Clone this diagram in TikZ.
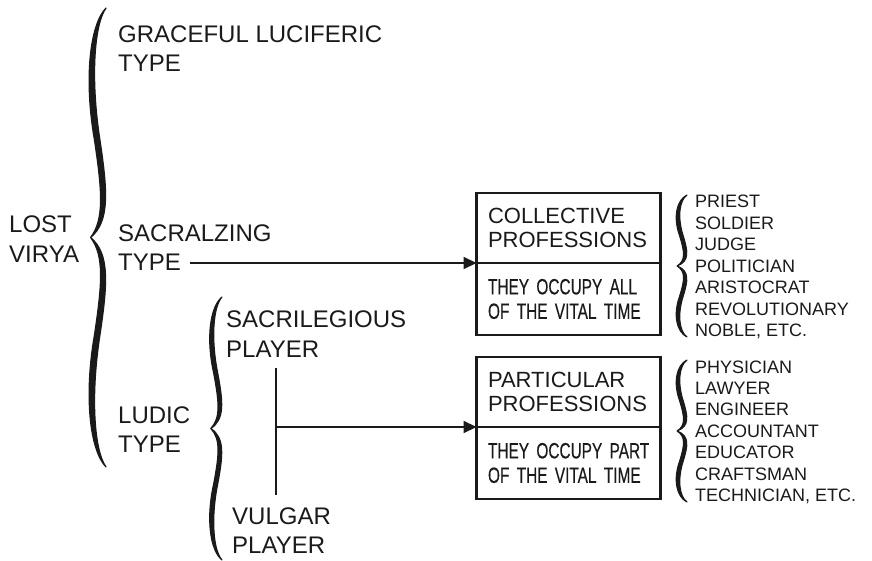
\documentclass[tikz,border=0pt]{standalone}
\usepackage{fontspec}
\setmainfont{Liberation Sans}
\newfontfamily\pCondFont[FakeStretch=0.7,FakeBold=0.4]{Liberation Sans}
\usetikzlibrary{positioning,arrows.meta}
\definecolor{pInk}{HTML}{1A1A1A}
% filled curly brace: end x, top y, bottom y, depth factor
\newcommand{\pBrace}[4]{%
  \filldraw[line width=1.2pt, line join=round, shift={(#1,{(#2+#3)/2})}, yscale={(#3-#2)/2}, xscale=#4]
    (0,-1) .. controls (-11,-0.926) and (-14,-0.686) .. (-5.5,-0.425)
    .. controls (1.5,-0.2) and (3.5,-0.07) .. (-14,0)
    .. controls (3.5,0.07) and (1.5,0.2) .. (-5.5,0.425)
    .. controls (-14,0.686) and (-11,0.926) .. (0,1)
    .. controls (-15,0.926) and (-20,0.686) .. (-10.5,0.425)
    .. controls (-3.5,0.2) and (-1.5,0.08) .. (-14,0)
    .. controls (-1.5,-0.08) and (-3.5,-0.2) .. (-10.5,-0.425)
    .. controls (-20,-0.686) and (-15,-0.926) .. (0,-1) -- cycle;}

\begin{document}
\begin{tikzpicture}[x=1pt,y=-1pt,pInk,
  lbl/.style={anchor=base west, inner sep=0pt, font=\fontsize{24}{29}\selectfont},
  job/.style={anchor=base west, inner sep=0pt, font=\fontsize{18}{21}\selectfont},
  headbox/.style={draw, line width=2.5pt, outer sep=0pt, minimum width=184pt, minimum height=70pt,
    text width=161pt, inner xsep=11.5pt, inner ysep=0pt, align=left, font=\fontsize{22}{23.5}\selectfont},
  notebox/.style={headbox, minimum height=72pt, font=\pCondFont\fontsize{22}{24.5}\selectfont},
  arrowline/.style={line width=2pt, -{Triangle[length=13pt,width=12pt]}}]
\useasboundingbox (0,0) rectangle (872,561);

% left column
\node[lbl] (lostA) at (9,233) {LOST};
\node[lbl] (lostB) at (9,262) {VIRYA};
\pBrace{106}{8}{467}{1.1}

\node[lbl] (gracA) at (118,42.5) {GRACEFUL LUCIFERIC};
\node[lbl] (gracB) at (118,72) {TYPE};
\node[lbl] (sacrA) at (118,241.5) {SACRALZING};
\node[lbl] (sacrB) at (118,270) {TYPE};
\node[lbl] (ludA) at (118,423) {LUDIC};
\node[lbl] (ludB) at (118,452) {TYPE};

\pBrace{222}{297}{560}{0.8}
\node[lbl] (sacrilA) at (226,327) {SACRILEGIOUS};
\node[lbl] (sacrilB) at (226,357) {PLAYER};
\node[lbl] (vulgA) at (232,524) {VULGAR};
\node[lbl] (vulgB) at (232,553) {PLAYER};

% boxes
\node[headbox] (coll) at (568.5,228) {COLLECTIVE\\PROFESSIONS};
\node[notebox, below=0pt of coll] (collnote) {\mbox{THEY OCCUPY ALL}\\OF THE VITAL TIME};
\node[headbox] (part) at (568.5,392) {PARTICULAR\\PROFESSIONS};
\node[notebox, below=0pt of part] (partnote) {\mbox{THEY OCCUPY PART}\\OF THE VITAL TIME};

% connectors
\coordinate (sacstart) at (190,263);
\draw[arrowline] (sacstart) -- (coll.south west);
\coordinate (forktop) at (276,368);
\coordinate (forkbot) at (276,495);
\draw[line width=2pt] (forktop) -- (forkbot);
\draw[arrowline] (forktop |- part.south west) -- (part.south west);

% lists
\pBrace{687}{195}{337}{0.7}
\foreach \w [count=\i] in {PRIEST,SOLDIER,JUDGE,POLITICIAN,ARISTOCRAT,REVOLUTIONARY,{NOBLE, ETC.}}
  \node[job] (cjob\i) at (695,{208+21.4*(\i-1)}) {\w};
\pBrace{687}{360}{502}{0.7}
\foreach \w [count=\i] in {PHYSICIAN,LAWYER,ENGINEER,ACCOUNTANT,EDUCATOR,CRAFTSMAN,{TECHNICIAN, ETC.}}
  \node[job] (pjob\i) at (695,{373+21.4*(\i-1)}) {\w};
\end{tikzpicture}
\end{document}
